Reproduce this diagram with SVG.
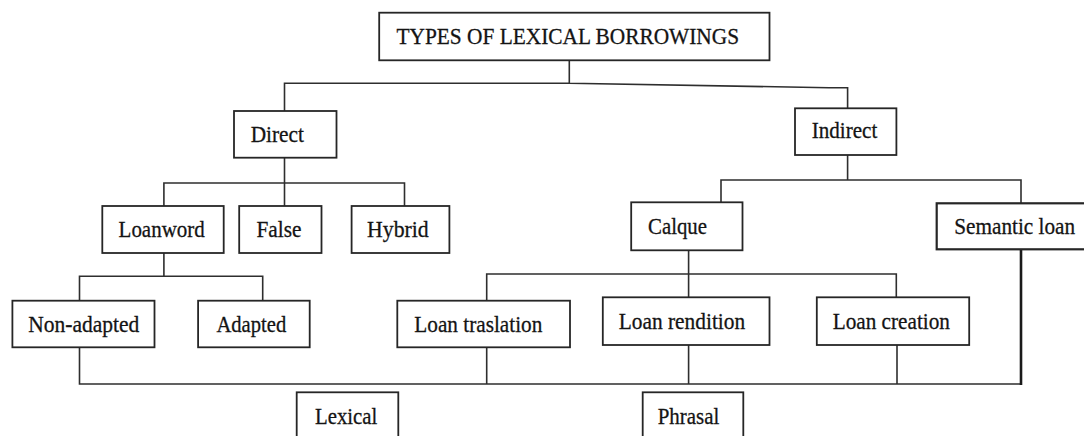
<svg xmlns="http://www.w3.org/2000/svg" width="1084" height="436" viewBox="0 0 1084 436">
<style>
.box{fill:#fff;stroke:#262626;stroke-width:1.8}
.con{fill:none;stroke:#2e2e2e;stroke-width:1.6}
.thick{fill:none;stroke:#1a1a1a;stroke-width:2.6}
.lbl{font-family:'Liberation Serif','Times New Roman',serif;font-size:24px;fill:#141414;stroke:#141414;stroke-width:0.3}
</style>
<rect width="1084" height="436" fill="#fff"/>
<g id="connectors">
<path class="con" d="M569.3,60.3 V83.3 M284.5,111 V83.3 H569.3 L829,87.7 H847.6 V108.3"/>
<path class="con" d="M284.5,157.7 V206 M163.9,206 V183 H404.5 V206"/>
<path class="con" d="M163.9,253 V276.3 M79.5,300.7 V276.3 H262.7 V300.7"/>
<path class="con" d="M847.6,155 V180 M721,202.3 V180 H1021 V203.3"/>
<path class="con" d="M688.6,250.3 V297.3 M486.7,300.7 V274 H896.3 V297.3"/>
<path class="con" d="M79.5,347.3 V384 H1021 M486.7,347.3 V384 M688.6,345 V384 M897,345 V384"/>
<path class="thick" d="M1021,249.3 V385"/>
</g>
<g id="node-title">
<rect class="box" x="379.2" y="12.7" width="390.3" height="47.6"/>
<text class="lbl" x="396.5" y="44" textLength="342.5" lengthAdjust="spacingAndGlyphs">TYPES OF LEXICAL BORROWINGS</text>
</g>
<g id="node-direct">
<rect class="box" x="234" y="111" width="102.5" height="46.7"/>
<text class="lbl" x="250.7" y="142.3" textLength="53.3" lengthAdjust="spacingAndGlyphs">Direct</text>
</g>
<g id="node-indirect">
<rect class="box" x="795" y="108.3" width="101.4" height="46.7"/>
<text class="lbl" x="811.7" y="138.3" textLength="65.6" lengthAdjust="spacingAndGlyphs">Indirect</text>
</g>
<g id="node-loanword">
<rect class="box" x="102.3" y="206" width="121.4" height="47"/>
<text class="lbl" x="118.6" y="237" textLength="86.1" lengthAdjust="spacingAndGlyphs">Loanword</text>
</g>
<g id="node-false">
<rect class="box" x="239.2" y="206" width="82.3" height="47"/>
<text class="lbl" x="256.5" y="237" textLength="45" lengthAdjust="spacingAndGlyphs">False</text>
</g>
<g id="node-hybrid">
<rect class="box" x="351.6" y="206" width="97.8" height="47"/>
<text class="lbl" x="367.1" y="237" textLength="61.6" lengthAdjust="spacingAndGlyphs">Hybrid</text>
</g>
<g id="node-calque">
<rect class="box" x="631.2" y="202.3" width="111.3" height="48"/>
<text class="lbl" x="648" y="234" textLength="59" lengthAdjust="spacingAndGlyphs">Calque</text>
</g>
<g id="node-semantic-loan">
<rect class="box" x="936.7" y="203.3" width="152" height="46" style="stroke-width:2.2"/>
<text class="lbl" x="954.3" y="234" textLength="120.7" lengthAdjust="spacingAndGlyphs">Semantic loan</text>
</g>
<g id="node-non-adapted">
<rect class="box" x="12.4" y="300.7" width="142.1" height="46.6"/>
<text class="lbl" x="28.3" y="332" textLength="111" lengthAdjust="spacingAndGlyphs">Non-adapted</text>
</g>
<g id="node-adapted">
<rect class="box" x="198.1" y="300.7" width="111.6" height="46.6"/>
<text class="lbl" x="216.4" y="332" textLength="69.8" lengthAdjust="spacingAndGlyphs">Adapted</text>
</g>
<g id="node-loan-traslation">
<rect class="box" x="397.3" y="300.7" width="172.7" height="46.6"/>
<text class="lbl" x="414.3" y="331.7" textLength="128" lengthAdjust="spacingAndGlyphs">Loan traslation</text>
</g>
<g id="node-loan-rendition">
<rect class="box" x="602.8" y="297.3" width="166.7" height="47.7"/>
<text class="lbl" x="618.7" y="329" textLength="126.5" lengthAdjust="spacingAndGlyphs">Loan rendition</text>
</g>
<g id="node-loan-creation">
<rect class="box" x="816.8" y="297.3" width="152.4" height="47.7"/>
<text class="lbl" x="832.7" y="329" textLength="117.2" lengthAdjust="spacingAndGlyphs">Loan creation</text>
</g>
<g id="node-lexical">
<rect class="box" x="296.7" y="392.3" width="101.6" height="50"/>
<text class="lbl" x="315" y="424.3" textLength="62.3" lengthAdjust="spacingAndGlyphs">Lexical</text>
</g>
<g id="node-phrasal">
<rect class="box" x="642.7" y="392.3" width="100.6" height="50"/>
<text class="lbl" x="657.7" y="424.3" textLength="61.6" lengthAdjust="spacingAndGlyphs">Phrasal</text>
</g>
</svg>
